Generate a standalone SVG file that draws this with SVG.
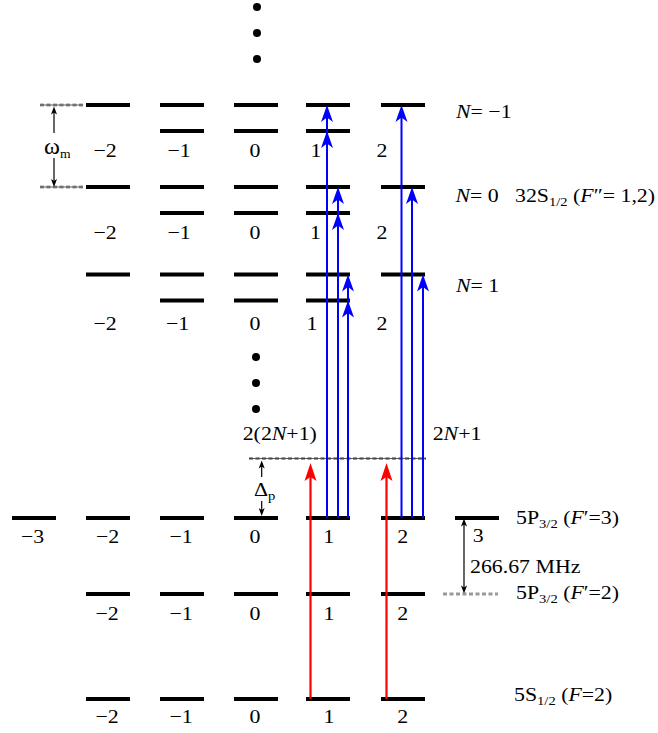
<svg xmlns="http://www.w3.org/2000/svg" width="658" height="733" viewBox="0 0 658 733">
<defs>
<style>
.bar{stroke:#000;stroke-width:4;}
.t{font-family:"Liberation Serif","Times New Roman",serif;font-size:19.5px;fill:#000;}
.m{text-anchor:middle}
.i{font-style:italic}
.sub{font-size:13px}
.big{font-size:23px}
.blue{stroke:#0000ff;stroke-width:2;fill:none;marker-end:url(#hb)}
.red{stroke:#ff0000;stroke-width:2.2;fill:none;marker-end:url(#hr)}
.dim{stroke:#000;stroke-width:1.2;fill:none;marker-end:url(#hk)}
.dashg{stroke:#999;stroke-width:3;stroke-dasharray:4 2.5}
.dashk{stroke:#333;stroke-width:0.8}
.dot{fill:#000}
</style>
<marker id="hb" markerUnits="userSpaceOnUse" markerWidth="20" markerHeight="14" viewBox="-18 -7 20 14" refX="-8" refY="0" orient="auto" overflow="visible">
<path d="M0,0 L-17,-6 L-12.5,0 L-17,6 Z" fill="#0000ff"/>
</marker>
<marker id="hr" markerUnits="userSpaceOnUse" markerWidth="20" markerHeight="14" viewBox="-19 -7 20 14" refX="-8" refY="0" orient="auto" overflow="visible">
<path d="M0,0 L-18,-6 L-14,0 L-18,6 Z" fill="#ff0000"/>
</marker>
<marker id="hk" markerUnits="userSpaceOnUse" markerWidth="10" markerHeight="8" viewBox="-9 -4 10 8" refX="-3" refY="0" orient="auto" overflow="visible">
<path d="M0,0 L-8,-3 L-6,0 L-8,3 Z" fill="#000"/>
</marker>
</defs>
<rect width="658" height="733" fill="#fff"/>

<g id="dots-top">
<circle class="dot" cx="257" cy="7" r="4"/><circle class="dot" cx="257" cy="33" r="4"/><circle class="dot" cx="257" cy="59" r="4"/>
</g>
<g id="dots-mid">
<circle class="dot" cx="256" cy="357" r="4"/><circle class="dot" cx="256" cy="383" r="4"/><circle class="dot" cx="256" cy="409" r="4"/>
</g>

<g id="level-N-minus1">
<line class="bar" x1="86" y1="105" x2="130" y2="105"/>
<line class="bar" x1="160" y1="105" x2="204" y2="105"/>
<line class="bar" x1="234" y1="105" x2="278" y2="105"/>
<line class="bar" x1="306" y1="105" x2="350" y2="105"/>
<line class="bar" x1="381" y1="105" x2="425" y2="105"/>
<line class="bar" x1="160" y1="131" x2="204" y2="131"/>
<line class="bar" x1="234" y1="131" x2="278" y2="131"/>
<line class="bar" x1="306" y1="131" x2="350" y2="131"/>
<text class="t m" transform="translate(105,157) scale(1.12,1)">−2</text>
<text class="t m" transform="translate(179,157) scale(1.12,1)">−1</text>
<text class="t m" transform="translate(255,157) scale(1.12,1)">0</text>
<text class="t m" transform="translate(316,157) scale(1.12,1)">1</text>
<text class="t m" transform="translate(382,157) scale(1.12,1)">2</text>
<text class="t" transform="translate(456,118) scale(1.12,1)"><tspan class="i">N</tspan>= −1</text>
</g>

<g id="level-N0">
<line class="bar" x1="86" y1="187" x2="130" y2="187"/>
<line class="bar" x1="160" y1="187" x2="204" y2="187"/>
<line class="bar" x1="234" y1="187" x2="278" y2="187"/>
<line class="bar" x1="306" y1="187" x2="350" y2="187"/>
<line class="bar" x1="381" y1="187" x2="425" y2="187"/>
<line class="bar" x1="160" y1="213" x2="204" y2="213"/>
<line class="bar" x1="234" y1="213" x2="278" y2="213"/>
<line class="bar" x1="306" y1="213" x2="350" y2="213"/>
<text class="t m" transform="translate(105,239) scale(1.12,1)">−2</text>
<text class="t m" transform="translate(179,239) scale(1.12,1)">−1</text>
<text class="t m" transform="translate(255,239) scale(1.12,1)">0</text>
<text class="t m" transform="translate(315.5,239) scale(1.12,1)">1</text>
<text class="t m" transform="translate(382,239) scale(1.12,1)">2</text>
<text class="t" transform="translate(455.5,201.7) scale(1.12,1)"><tspan class="i">N</tspan>= 0</text>
<text class="t" transform="translate(515,201.7) scale(1.12,1)">32S<tspan class="sub" dy="4.5">1/2</tspan><tspan dy="-4.5"> (</tspan><tspan class="i">F</tspan>″= 1,2)</text>
</g>

<g id="level-N1">
<line class="bar" x1="86" y1="274.5" x2="130" y2="274.5"/>
<line class="bar" x1="160" y1="274.5" x2="204" y2="274.5"/>
<line class="bar" x1="234" y1="274.5" x2="278" y2="274.5"/>
<line class="bar" x1="306" y1="274.5" x2="350" y2="274.5"/>
<line class="bar" x1="381" y1="274.5" x2="425" y2="274.5"/>
<line class="bar" x1="160" y1="300.5" x2="204" y2="300.5"/>
<line class="bar" x1="234" y1="300.5" x2="278" y2="300.5"/>
<line class="bar" x1="306" y1="300.5" x2="350" y2="300.5"/>
<text class="t m" transform="translate(105,330) scale(1.12,1)">−2</text>
<text class="t m" transform="translate(177.5,330) scale(1.12,1)">−1</text>
<text class="t m" transform="translate(255,330) scale(1.12,1)">0</text>
<text class="t m" transform="translate(312,330) scale(1.12,1)">1</text>
<text class="t m" transform="translate(382,330) scale(1.12,1)">2</text>
<text class="t" transform="translate(456,291.7) scale(1.12,1)"><tspan class="i">N</tspan>= 1</text>
</g>

<g id="level-5P-F3">
<line class="bar" x1="12" y1="518" x2="56" y2="518"/>
<line class="bar" x1="86" y1="518" x2="130" y2="518"/>
<line class="bar" x1="160" y1="518" x2="204" y2="518"/>
<line class="bar" x1="234" y1="518" x2="278" y2="518"/>
<line class="bar" x1="306" y1="518" x2="350" y2="518"/>
<line class="bar" x1="381" y1="518" x2="425" y2="518"/>
<line class="bar" x1="455" y1="518" x2="499" y2="518"/>
<text class="t m" transform="translate(32.5,543) scale(1.12,1)">−3</text>
<text class="t m" transform="translate(107.5,543) scale(1.12,1)">−2</text>
<text class="t m" transform="translate(181,543) scale(1.12,1)">−1</text>
<text class="t m" transform="translate(255,543) scale(1.12,1)">0</text>
<text class="t m" transform="translate(328.7,543) scale(1.12,1)">1</text>
<text class="t m" transform="translate(402.7,543) scale(1.12,1)">2</text>
<text class="t" transform="translate(472.7,541.7) scale(1.12,1)">3</text>
<text class="t" transform="translate(516,524) scale(1.12,1)">5P<tspan class="sub" dy="4">3/2</tspan><tspan dy="-4"> (</tspan><tspan class="i">F</tspan>′=3)</text>
</g>

<g id="level-5P-F2">
<line class="bar" x1="86" y1="594" x2="130" y2="594"/>
<line class="bar" x1="160" y1="594" x2="204" y2="594"/>
<line class="bar" x1="234" y1="594" x2="278" y2="594"/>
<line class="bar" x1="306" y1="594" x2="350" y2="594"/>
<line class="bar" x1="381" y1="594" x2="425" y2="594"/>
<text class="t m" transform="translate(107,620) scale(1.12,1)">−2</text>
<text class="t m" transform="translate(181,620) scale(1.12,1)">−1</text>
<text class="t m" transform="translate(255,620) scale(1.12,1)">0</text>
<text class="t m" transform="translate(329,620) scale(1.12,1)">1</text>
<text class="t m" transform="translate(402.7,620) scale(1.12,1)">2</text>
<text class="t" transform="translate(516,599) scale(1.12,1)">5P<tspan class="sub" dy="4">3/2</tspan><tspan dy="-4"> (</tspan><tspan class="i">F</tspan>′=2)</text>
</g>

<g id="level-5S-F2">
<line class="bar" x1="86" y1="699" x2="130" y2="699"/>
<line class="bar" x1="160" y1="699" x2="204" y2="699"/>
<line class="bar" x1="234" y1="699" x2="278" y2="699"/>
<line class="bar" x1="306" y1="699" x2="350" y2="699"/>
<line class="bar" x1="381" y1="699" x2="425" y2="699"/>
<text class="t m" transform="translate(107,723) scale(1.12,1)">−2</text>
<text class="t m" transform="translate(181,723) scale(1.12,1)">−1</text>
<text class="t m" transform="translate(255,723) scale(1.12,1)">0</text>
<text class="t m" transform="translate(329,723) scale(1.12,1)">1</text>
<text class="t m" transform="translate(402.7,723) scale(1.12,1)">2</text>
<text class="t" transform="translate(514,700.7) scale(1.12,1)">5S<tspan class="sub" dy="4">1/2</tspan><tspan dy="-4"> (</tspan><tspan class="i">F</tspan>=2)</text>
</g>

<g id="virtual-levels">
<line class="dashg" x1="40" y1="105" x2="83" y2="105"/><line class="dashk" x1="40" y1="105" x2="83" y2="105"/>
<line class="dashg" x1="40" y1="187" x2="83" y2="187"/><line class="dashk" x1="40" y1="187" x2="83" y2="187"/>
<line class="dashg" x1="249" y1="458.5" x2="426" y2="458.5"/><line class="dashk" x1="249" y1="458.5" x2="426" y2="458.5"/>
<line class="dashg" x1="443" y1="594" x2="498" y2="594"/>
<text class="t" transform="translate(242.7,440) scale(1.12,1)">2(2<tspan class="i">N</tspan>+1)</text>
<text class="t" transform="translate(432.7,440) scale(1.12,1)">2<tspan class="i">N</tspan>+1</text>
</g>

<g id="connectors">
<line class="dim" x1="54" y1="133" x2="54" y2="109.5"/>
<line class="dim" x1="54" y1="158" x2="54" y2="184"/>
<text class="t" transform="translate(44,154) scale(1.05,1)"><tspan class="big">ω</tspan><tspan class="sub" dy="4">m</tspan></text>
<line class="dim" x1="261.7" y1="477" x2="261.7" y2="463.5"/>
<line class="dim" x1="261.7" y1="501" x2="261.7" y2="513"/>
<text class="t" transform="translate(254,496) scale(1.12,1)">Δ<tspan class="sub" dy="4">p</tspan></text>
<line class="dim" x1="464" y1="556" x2="464" y2="521.5"/>
<line class="dim" x1="464" y1="556" x2="464" y2="590.5"/>
<text class="t" transform="translate(470,573) scale(1.12,1)">266.67 MHz</text>
<line class="red" x1="310.5" y1="699" x2="310.5" y2="471"/>
<line class="red" x1="386.5" y1="699" x2="386.5" y2="471"/>
<line class="blue" x1="327" y1="518" x2="327" y2="113"/>
<line class="blue" x1="327" y1="518" x2="327" y2="139"/>
<line class="blue" x1="338" y1="518" x2="338" y2="195"/>
<line class="blue" x1="338" y1="518" x2="338" y2="221"/>
<line class="blue" x1="348" y1="518" x2="348" y2="282.5"/>
<line class="blue" x1="348" y1="518" x2="348" y2="308.5"/>
<line class="blue" x1="401.5" y1="518" x2="401.5" y2="113"/>
<line class="blue" x1="412" y1="518" x2="412" y2="195"/>
<line class="blue" x1="423" y1="518" x2="423" y2="282.5"/>
</g>
</svg>
